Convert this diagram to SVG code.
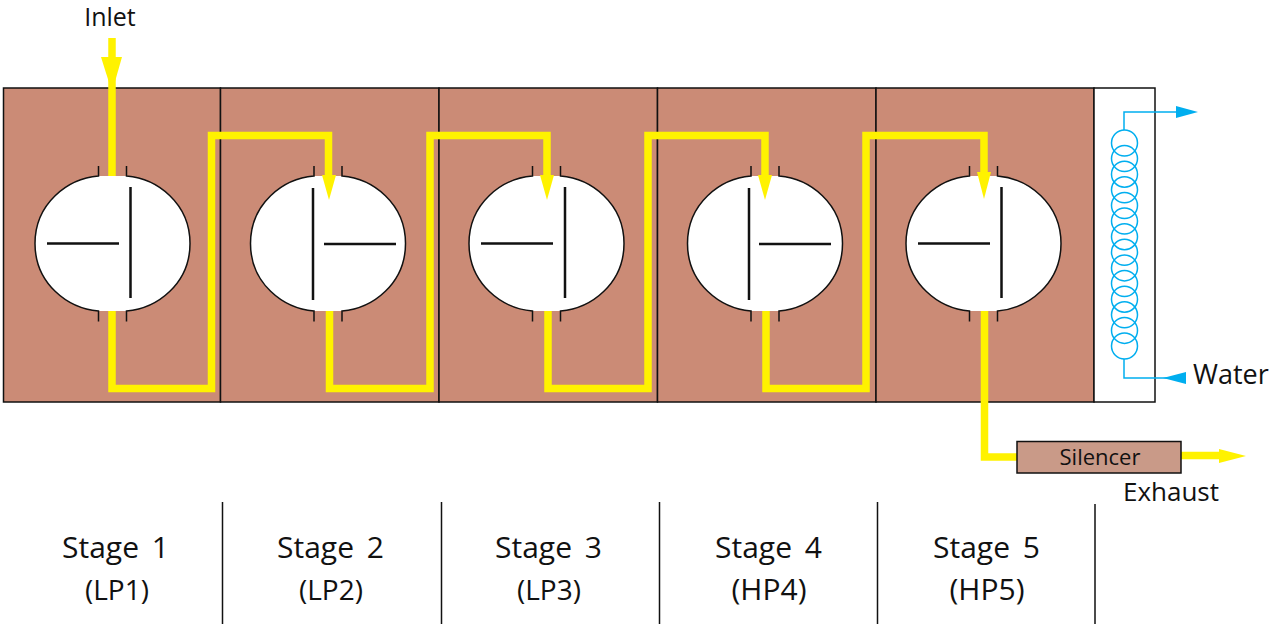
<svg xmlns="http://www.w3.org/2000/svg" width="1270" height="624" viewBox="0 0 1270 624">
<style>
text{font-family:"Open Sans","Liberation Sans",Arial,sans-serif;fill:#111}
.st{font-size:30px;text-anchor:middle;word-spacing:5px}
.pr{font-size:28px;text-anchor:middle}
.hp{font-size:30px;text-anchor:middle}
.panel{fill:#cb8b76;stroke:#111;stroke-width:1.5}
.tick{stroke:#111;stroke-width:1.5;fill:none}
.blade{stroke:#111;stroke-width:2.5;fill:none}
.steam{stroke:#fff200;stroke-width:7.5;fill:none}
.head{fill:#fff200}
.coil{stroke:#00aeef;stroke-width:1.5;fill:none}
.chead{fill:#00aeef}
.rule{stroke:#111;stroke-width:1.5}
</style>
<defs>
<g id="casing">
<path d="M-14 -67.500C-45 -65 -77.500 -40 -77.500 0C-77.500 40 -45 65 -14 67.500H14C45 65 77.500 40 77.500 0C77.500 -40 45 -65 14 -67.500Z" fill="#fff"/>
<path class="tick" d="M-14 -77.500V-67.500C-45 -65 -77.500 -40 -77.500 0C-77.500 40 -45 65 -14 67.500V78M14 78V67.500C45 65 77.500 40 77.500 0C77.500 -40 45 -65 14 -67.500V-77.500"/>
</g>
</defs>
<g id="panels">
<rect class="panel" x="3.500" y="88" width="217" height="314"/>
<rect class="panel" x="220.500" y="88" width="218.500" height="314"/>
<rect class="panel" x="439" y="88" width="218.500" height="314"/>
<rect class="panel" x="657.500" y="88" width="218.500" height="314"/>
<rect class="panel" x="876" y="88" width="218" height="314"/>
</g>
<g id="cooler">
<rect x="1094" y="88" width="61" height="314" fill="#fff" stroke="#111" stroke-width="1.500"/>
<g class="coil">
<circle cx="1124.500" cy="143" r="13"/><circle cx="1124.500" cy="158.600" r="13"/><circle cx="1124.500" cy="174.200" r="13"/><circle cx="1124.500" cy="189.800" r="13"/><circle cx="1124.500" cy="205.500" r="13"/><circle cx="1124.500" cy="221.100" r="13"/><circle cx="1124.500" cy="236.700" r="13"/><circle cx="1124.500" cy="252.300" r="13"/><circle cx="1124.500" cy="267.900" r="13"/><circle cx="1124.500" cy="283.500" r="13"/><circle cx="1124.500" cy="299.200" r="13"/><circle cx="1124.500" cy="314.800" r="13"/><circle cx="1124.500" cy="330.400" r="13"/><circle cx="1124.500" cy="346" r="13"/>
</g>
</g>
<g id="stage1"><use href="#casing" x="112.500" y="243.500"/><path class="blade" d="M47 243.500H119M130.500 187V298"/></g>
<g id="stage2"><use href="#casing" x="328" y="243.500"/><path class="blade" d="M324 244H396M313 188V300"/></g>
<g id="stage3"><use href="#casing" x="546.500" y="243.500"/><path class="blade" d="M481 243.500H553M565 187V298"/></g>
<g id="stage4"><use href="#casing" x="765" y="243.500"/><path class="blade" d="M759 244H831M749 188V300"/></g>
<g id="stage5"><use href="#casing" x="983.500" y="243.500"/><path class="blade" d="M918 243.500H990M1001.500 187V298"/></g>
<g id="connectors">
<path class="steam" d="M112 38V176"/>
<path class="head" d="M101 57H122L112 92Z"/>
<path class="steam" d="M112 311V388.500H211.500V135.500H328.500V176"/>
<path class="head" d="M322 175H336L329 200Z"/>
<path class="steam" d="M329.500 311V388.500H430V135.500H547V176"/>
<path class="head" d="M540 175H554L547 200Z"/>
<path class="steam" d="M548 311V388.500H648V135.500H765V176"/>
<path class="head" d="M758 175H772L765 200Z"/>
<path class="steam" d="M766 311V388.500H866V135.500H984V176"/>
<path class="head" d="M977 172H991L984 199Z"/>
<path class="steam" d="M984.500 311V457H1017"/>
<path class="steam" d="M1181 455.500H1222"/>
<path class="head" d="M1219 449L1246 456L1219 463Z"/>
<path class="coil" d="M1124 130V112H1180"/>
<path class="chead" d="M1176 106L1198 112L1176 118Z"/>
<path class="coil" d="M1124 359V378H1170"/>
<path class="chead" d="M1186 372V384L1163 378Z"/>
</g>
<g id="silencer">
<rect x="1017" y="441.500" width="164" height="31.500" fill="#c99a88" stroke="#111" stroke-width="1.500"/>
<text x="1100" y="465" font-size="22" text-anchor="middle">Silencer</text>
</g>
<g id="labels">
<text x="110" y="26" font-size="25" text-anchor="middle">Inlet</text>
<text x="1193" y="384" font-size="27">Water</text>
<text x="1171" y="501" font-size="26" text-anchor="middle">Exhaust</text>
<text x="115.500" y="558" class="st">Stage 1</text><text x="117" y="600" class="pr">(LP1)</text>
<text x="330.500" y="558" class="st">Stage 2</text><text x="331" y="600" class="pr">(LP2)</text>
<text x="548.500" y="558" class="st">Stage 3</text><text x="549" y="600" class="pr">(LP3)</text>
<text x="768.500" y="558" class="st">Stage 4</text><text x="769" y="600" class="hp">(HP4)</text>
<text x="986.500" y="558" class="st">Stage 5</text><text x="987" y="600" class="hp">(HP5)</text>
</g>
<g id="rules">
<path class="rule" d="M222.500 502V624M441.500 502V624M659.500 502V624M877.500 502V624M1095 504V624"/>
</g>
</svg>
